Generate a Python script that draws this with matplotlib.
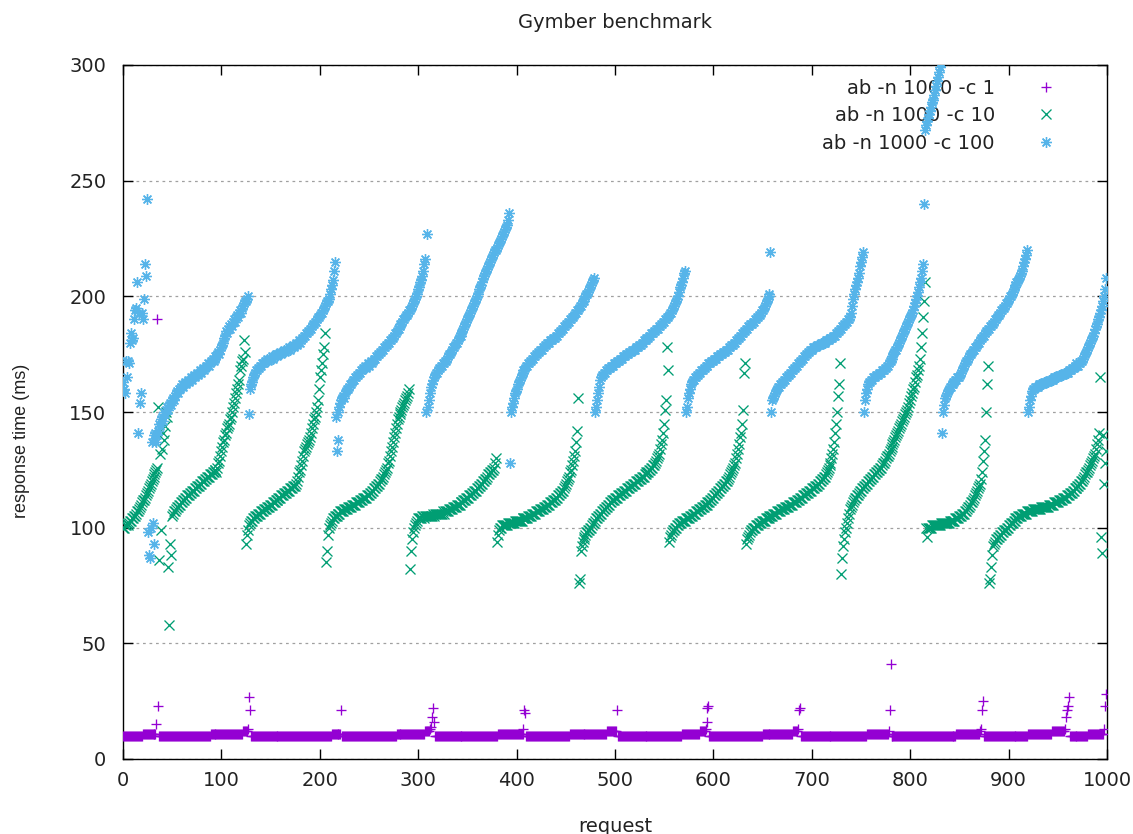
import numpy as np
import matplotlib
matplotlib.use("Agg")
import matplotlib.pyplot as plt

plt.rcParams['font.family'] = ['DejaVu Sans']

title = "Gymber benchmark"
xlabel = "request"
ylabel = "response time (ms)"
series_labels = ["ab -n 1000 -c 1", "ab -n 1000 -c 10", "ab -n 1000 -c 100"]
series_colors = ["#9400D3", "#009E73", "#56B4E9"]
xticks = [0, 100, 200, 300, 400, 500, 600, 700, 800, 900, 1000]
yticks = [0, 50, 100, 150, 200, 250, 300]

# ---- ab -n 1000 -c 1 : run-length data (run start request, value) ----
c1_run_start = [0, 20, 34, 35, 36, 37, 89, 122, 127, 128, 129, 130, 212, 222, 223,
                278, 307, 312, 313, 314, 315, 316, 317, 381, 407, 408, 409, 410,
                454, 492, 502, 503, 568, 586, 592, 593, 594, 595, 596, 650, 681,
                686, 687, 688, 689, 756, 778, 779, 780, 781, 847, 871, 872, 873,
                874, 875, 920, 944, 957, 958, 959, 960, 961, 962, 981, 997, 998, 999]
c1_run_value = [10, 11, 15, 190, 23, 10, 11, 12, 13, 27, 21, 10, 11, 21, 10,
                11, 12, 13, 14, 18, 22, 16, 10, 11, 13, 21, 20, 10,
                11, 12, 21, 10, 11, 12, 13, 16, 22, 23, 10, 11, 12,
                13, 21, 22, 10, 11, 12, 21, 41, 10, 11, 12, 13, 21,
                25, 10, 11, 12, 13, 18, 21, 23, 27, 10, 11, 13, 23, 28]
n_requests = 1000

# ---- ab -n 1000 -c 10 : segments (first request of each segment + values) ----
c10_seg_start = [0, 46, 125, 206, 292, 380, 463, 555, 633, 730, 816, 880]
c10_s01 = [100,100,101,101,102,101,102,103,103,104, 104,105,105,106,107,107,108,109,110,111,
           112,112,113,114,115,116,117,118,119,120, 121,122,123,124,125,126,152,86,132,99,
           134,141,138,144,150,148]
c10_s02 = [83,58,93,88,105,106,107,107,108,109, 109,110,110,111,111,112,112,113,113,114,
           114,114,115,115,116,116,116,117,117,118, 118,118,119,119,120,120,120,121,121,122,
           122,122,123,123,123,124,124,125,125,124, 126,128,129,131,133,135,137,138,140,141,
           143,144,145,147,148,150,152,154,156,158, 160,162,164,168,170,172,173,181,176]
c10_s03 = [93,97,99,101,102,103,103,104,104,105, 105,105,106,106,106,107,107,107,108,108,
           108,109,109,109,110,110,110,111,111,111, 112,112,112,113,113,113,114,114,114,115,
           115,115,116,116,116,117,117,117,118,118, 118,119,120,122,124,125,127,129,131,133,
           134,135,136,137,138,139,141,143,145,147, 148,150,152,155,160,165,168,171,175,178,184]
c10_s04 = [85,90,97,100,101,102,103,104,104,105, 105,105,106,106,106,107,107,107,107,108,
           108,108,108,109,109,109,109,110,110,110, 110,111,111,111,111,112,112,112,113,113,
           113,113,114,114,114,115,115,116,116,117, 117,118,118,119,119,120,121,121,122,123,
           124,125,126,128,129,131,133,135,137,139, 141,143,145,147,148,149,150,151,152,153,
           154,155,156,157,158,160]
c10_s05 = [82,90,95,98,100,101,102,103,104,104, 104,104,105,105,104,105,105,105,105,105,
           105,105,105,106,105,106,106,106,106,106, 106,106,106,107,106,107,107,107,107,108,
           108,108,108,109,109,109,109,110,110,110, 110,111,111,111,112,112,112,113,113,113,
           114,114,114,115,115,116,116,116,117,117, 118,118,119,119,120,120,121,121,122,123,
           123,124,124,125,125,126,128,130]
c10_s06 = [94,97,99,100,100,101,101,101,101,101, 101,102,102,102,102,102,102,102,103,103,
           103,103,103,103,103,103,104,104,104,104, 104,104,105,105,105,105,106,106,106,106,
           107,107,107,107,108,108,108,108,109,109, 109,110,110,110,111,111,111,112,112,112,
           113,113,114,114,115,115,116,116,117,118, 119,120,121,122,124,125,127,129,131,133,
           137,142,156]
c10_s07 = [76,78,90,92,94,95,96,97,98,98, 99,99,100,100,101,102,102,103,104,104,
           105,105,106,106,107,107,108,108,109,109, 110,110,111,111,112,112,112,113,113,113,
           114,114,114,115,115,115,116,116,116,117, 117,117,118,118,118,119,119,119,120,120,
           120,121,121,121,122,122,122,123,123,124, 124,124,125,125,126,126,127,127,128,129,
           130,131,132,134,136,138,141,145,151,155, 178,168]
c10_s08 = [94,96,97,98,99,99,100,100,101,101, 102,102,102,103,103,103,103,104,104,104,
           104,105,105,105,106,106,106,107,107,107, 108,108,108,109,109,109,110,110,110,111,
           111,111,112,112,113,113,114,114,115,115, 116,116,117,117,118,118,119,119,120,120,
           121,122,123,124,125,126,127,128,130,132, 134,136,139,141,145,151,167,171]
c10_s09 = [93,95,96,97,98,99,99,100,100,100, 101,101,101,102,102,102,103,103,103,103,
           104,104,104,104,105,105,105,105,106,106, 106,106,107,107,107,107,108,108,108,108,
           109,109,109,109,110,110,110,110,111,111, 111,111,112,112,112,113,113,113,114,114,
           114,115,115,115,116,116,116,117,117,117, 118,118,118,119,119,120,120,121,121,122,
           122,123,124,125,126,127,128,130,132,134, 137,141,145,150,157,162,171]
c10_s10 = [80,87,92,95,98,100,102,104,106,108, 109,110,111,112,113,113,114,114,115,116,
           116,117,117,118,118,119,119,120,120,121, 121,122,122,123,123,124,124,125,125,126,
           126,127,128,128,129,130,131,131,132,133, 134,135,136,137,138,139,140,141,142,143,
           144,145,146,147,148,149,150,151,152,154, 155,157,158,160,161,163,165,166,168,170,
           173,178,184,191,198,206]
c10_s11 = [100,96,100,100,100,100,101,101,101,101, 101,101,101,101,101,102,102,102,102,102,
           102,102,102,102,103,103,103,103,103,103, 104,104,104,104,105,105,105,106,106,106,
           107,107,108,109,109,110,111,111,112,113, 114,115,116,117,118,119,121,124,129,133,
           138,150,162,170]
c10_s12 = [76,78,83,88,92,93,94,95,95,96, 96,97,97,98,98,99,99,99,100,100,
           101,101,102,102,102,103,103,104,104,104, 105,105,105,105,106,106,106,106,106,107,
           107,107,107,107,107,108,108,108,108,108, 108,108,108,109,109,109,109,109,109,109,
           109,110,110,110,110,110,111,111,111,111, 111,112,112,112,112,113,113,113,113,114,
           114,114,115,115,115,116,116,117,117,117, 118,118,119,119,120,120,121,122,123,124,
           124,125,126,127,128,129,130,131,132,134, 136,138,141,165,96,89,140,119,128,133]
c10_segments = [c10_s01, c10_s02, c10_s03, c10_s04, c10_s05, c10_s06,
                c10_s07, c10_s08, c10_s09, c10_s10, c10_s11, c10_s12]

# ---- ab -n 1000 -c 100 : segments ----
c100_seg_start = [0, 35, 128, 216, 308, 393, 480, 572, 660, 753, 832, 920]
c100_s01 = [163,160,158,172,165,172,171,180,184,181, 182,190,194,195,206,141,193,154,158,193,
            190,199,214,209,242,98,88,87,100,137, 102,93,140,141,137]
c100_s02 = [140,142,145,144,147,148,146,150,149,151, 152,151,153,154,153,155,156,155,157,158,
            159,158,160,160,161,162,161,162,163,162, 163,164,163,164,165,164,165,166,165,166,
            167,166,167,168,167,168,169,168,169,170, 170,171,170,171,172,172,173,172,173,174,
            174,175,176,175,177,178,179,180,182,183, 185,184,186,187,186,188,187,189,190,189,
            191,192,191,193,194,193,195,196,197,198, 198,199,200]
c100_s03 = [149,160,162,163,165,166,167,168,168,169, 169,170,170,171,171,171,172,172,173,172,
            173,173,173,174,173,174,174,175,174,175, 175,175,176,175,176,176,177,176,177,177,
            177,178,177,178,178,179,178,179,180,179, 180,181,180,181,182,182,183,183,184,184,
            185,185,186,186,187,188,188,189,189,190, 191,191,192,193,193,194,195,196,197,198,
            198,199,201,203,205,207,211,215]
c100_s04 = [148,133,150,138,152,154,155,156,157,156, 158,159,160,160,161,162,162,163,164,164,
            165,165,166,166,167,167,168,168,169,169, 170,169,170,171,170,171,172,171,172,173,
            173,174,174,175,175,176,176,177,177,178, 178,179,179,180,180,181,181,182,182,183,
            184,184,185,186,186,187,188,188,189,190, 190,191,192,192,193,194,194,195,196,197,
            198,199,200,201,203,204,206,207,209,211, 214,216]
c100_s05 = [150,227,152,155,158,161,162,164,165,166, 167,167,168,169,169,170,170,171,171,172,
            172,173,174,175,175,176,177,178,178,179, 180,180,181,182,183,183,184,185,186,187,
            188,189,190,191,192,193,194,195,196,197, 198,199,200,201,203,204,205,206,208,209,
            210,211,212,213,214,215,216,217,218,219, 220,220,221,222,223,224,225,226,227,228,
            229,230,231,233,236]
c100_s06 = [128,150,152,154,156,158,159,160,162,163, 164,165,166,167,168,168,169,170,170,171,
            171,172,172,173,173,174,174,175,175,176, 176,177,177,177,178,178,179,179,180,180,
            180,181,181,181,182,182,182,183,183,184, 184,185,185,186,186,187,187,188,188,189,
            189,190,190,191,191,192,193,193,194,194, 195,196,196,197,198,198,199,200,201,201,
            202,203,204,205,206,207,208]
c100_s07 = [150,152,155,158,161,164,165,166,166,167, 167,168,168,169,169,169,170,170,170,171,
            171,171,172,172,172,173,173,173,174,174, 174,175,175,175,176,176,176,177,177,177,
            177,178,178,178,179,179,179,180,180,181, 181,181,182,182,182,183,183,184,184,184,
            185,185,186,186,186,187,187,188,188,189, 189,190,190,191,191,192,193,193,194,195,
            196,197,198,199,200,202,204,205,206,208, 210,211]
c100_s08 = [150,152,156,158,160,162,163,164,164,165, 165,166,166,167,167,168,168,168,169,169,
            170,170,170,171,171,171,172,172,172,173, 173,173,174,174,174,175,175,175,176,176,
            176,177,177,177,178,178,179,179,179,180, 180,181,181,182,182,183,183,184,184,185,
            185,186,186,187,187,188,188,188,189,189, 190,190,191,191,192,192,193,194,194,195,
            196,197,198,199,200,201,219,150]
c100_s09 = [155,156,157,158,159,160,161,161,162,162, 163,163,164,164,165,165,166,166,167,167,
            168,168,169,169,170,170,171,171,172,172, 173,173,174,174,175,175,176,176,177,177,
            177,178,178,178,178,179,179,179,179,180, 180,180,180,180,181,181,181,181,182,182,
            182,182,183,183,183,184,184,185,185,186, 186,187,187,188,188,189,189,190,190,191,
            193,196,199,201,203,205,206,208,210,213, 215,217,219]
c100_s10 = [150,155,158,160,162,163,163,164,164,165, 165,165,166,166,166,167,167,167,168,168,
            168,169,169,170,170,171,172,172,173,174, 175,176,177,177,178,179,180,181,182,183,
            184,185,186,187,188,189,190,191,192,193, 194,196,197,199,200,202,204,206,208,211,
            214,240,272,274,276,277,279,280,282,284, 285,287,289,291,293,295,297,299,301]
c100_s11 = [141,150,153,156,157,158,159,160,161,161, 162,162,163,163,164,164,165,165,165,166,
            167,168,169,170,171,172,172,173,174,175, 175,176,177,177,178,178,179,180,180,181,
            182,182,183,183,184,185,185,186,186,187, 187,188,188,189,190,190,191,192,192,193,
            194,194,195,195,196,197,197,198,199,200, 200,201,202,203,204,205,206,206,207,208,
            209,210,211,213,215,216,218,220]
c100_s12 = [150,152,155,157,159,160,160,161,161,161, 161,162,162,162,162,162,163,163,163,163,
            163,164,164,164,164,164,165,165,165,165, 165,166,166,166,166,166,167,167,167,167,
            167,168,168,168,169,169,169,170,170,171, 170,170,171,171,172,172,173,174,175,176,
            177,178,179,180,181,182,183,184,186,187, 188,190,191,193,194,196,198,200,203,208]
c100_segments = [c100_s01, c100_s02, c100_s03, c100_s04, c100_s05, c100_s06,
                 c100_s07, c100_s08, c100_s09, c100_s10, c100_s11, c100_s12]


def from_segments(starts, segments):
    xs, ys = [], []
    for s, seg in zip(starts, segments):
        xs.append(s + np.arange(len(seg)))
        ys.append(np.asarray(seg, dtype=float))
    return np.concatenate(xs), np.concatenate(ys)


c1_counts = np.diff(c1_run_start + [n_requests])
c1_y = np.repeat(np.asarray(c1_run_value, dtype=float), c1_counts)
c1_x = np.arange(len(c1_y))
c10_x, c10_y = from_segments(c10_seg_start, c10_segments)
c100_x, c100_y = from_segments(c100_seg_start, c100_segments)

W, H = 1133, 834
fig = plt.figure(figsize=(W / 100, H / 100), dpi=100)
L, R, T, B = 123, 1107, 65, 759
ax = fig.add_axes([L / W, 1 - B / H, (R - L) / W, (B - T) / H])
ax.set_xlim(0, 1000)
ax.set_ylim(0, 300)
ax.set_xticks(xticks)
ax.set_yticks(yticks)
txt_color = '#222222'
fs = 14
ax.tick_params(direction='in', length=7, width=1, top=True, right=True,
               labelsize=fs, colors='black', labelcolor=txt_color)
ax.tick_params(axis='x', pad=9)
ax.tick_params(axis='y', pad=12)
for sp in ax.spines.values():
    sp.set_linewidth(1.0)
    sp.set_color('black')
ax.yaxis.grid(True, linestyle=(0, (2.2, 3.0)), color='#a0a0a0', linewidth=0.9)
ax.set_axisbelow(True)

ms = 7.8
mew = 0.95
h1, = ax.plot(c1_x, c1_y, linestyle='none', marker='+', ms=ms, mew=mew,
              color=series_colors[0], label=series_labels[0], zorder=3)
h2, = ax.plot(c10_x, c10_y, linestyle='none', marker='x', ms=ms * 0.95, mew=mew,
              color=series_colors[1], label=series_labels[1], zorder=4)
h3, = ax.plot(c100_x, c100_y, linestyle='none', marker=(8, 2, 0), ms=ms, mew=mew,
              color=series_colors[2], label=series_labels[2], zorder=5)

leg = ax.legend(handles=[h1, h2, h3], loc='upper right',
                bbox_to_anchor=(1065 / W, 1 - 78.5 / H), bbox_transform=fig.transFigure,
                frameon=False, markerfirst=False, fontsize=fs,
                handlelength=2.0, handletextpad=1.6, labelspacing=0.44,
                borderpad=0, borderaxespad=0, labelcolor=txt_color)
for col in leg._legend_handle_box.get_children():
    col.align = 'right'
leg.set_zorder(1)

fig.text(615 / W, 1 - 23 / H, title, ha='center', va='center', fontsize=fs,
         color=txt_color)
fig.text(615 / W, 1 - 826 / H, xlabel, ha='center', va='center', fontsize=fs,
         color=txt_color)
fig.text(22 / W, 1 - 441 / H, ylabel, ha='center', va='center', fontsize=13,
         rotation=90, color=txt_color, family=['Liberation Sans', 'DejaVu Sans'])

fig.savefig('out.png', dpi=100)
